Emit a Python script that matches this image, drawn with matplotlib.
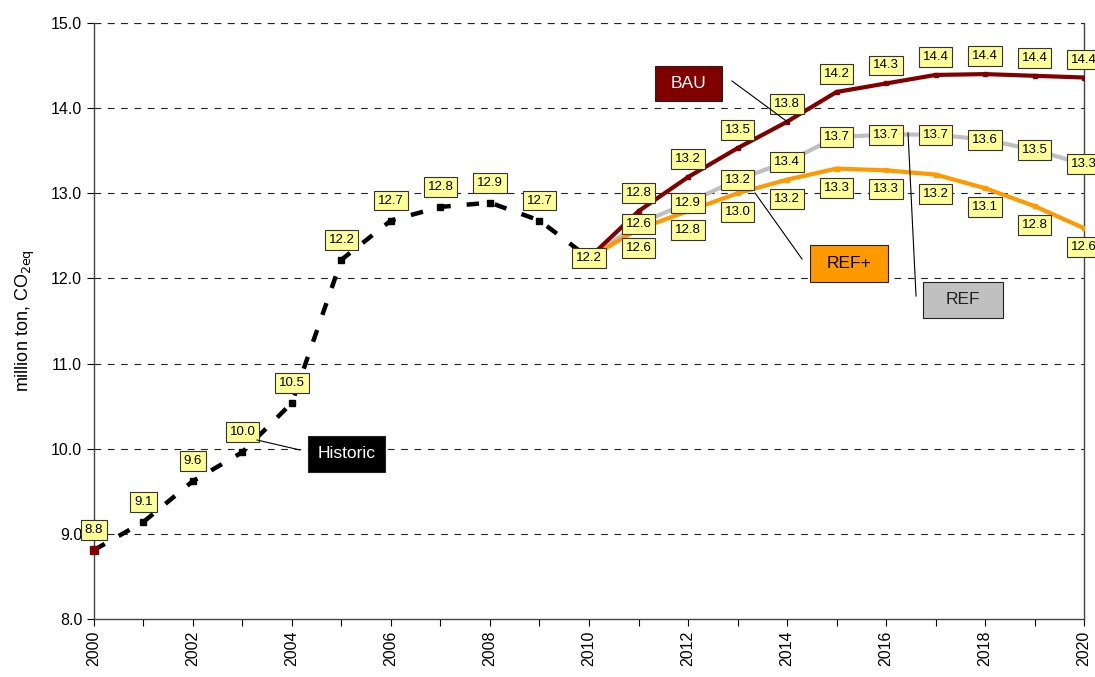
import matplotlib
matplotlib.use("Agg")
import matplotlib.pyplot as plt
from matplotlib.patches import Rectangle

plt.rcParams['font.family'] = ['Liberation Sans', 'DejaVu Sans']

years_hist = [2000, 2001, 2002, 2003, 2004, 2005, 2006, 2007, 2008, 2009, 2010]
historic = [8.81, 9.14, 9.62, 9.96, 10.54, 12.22, 12.68, 12.84, 12.89, 12.68, 12.24]

years_scen = [2010, 2011, 2012, 2013, 2014, 2015, 2016, 2017, 2018, 2019, 2020]
bau = [12.24, 12.79, 13.19, 13.53, 13.84, 14.19, 14.29, 14.39, 14.40, 14.38, 14.36]
ref = [12.24, 12.64, 12.89, 13.16, 13.37, 13.66, 13.69, 13.69, 13.63, 13.51, 13.34]
refplus = [12.24, 12.58, 12.79, 13.00, 13.16, 13.29, 13.27, 13.22, 13.06, 12.85, 12.59]

yticks = [8.0, 9.0, 10.0, 11.0, 12.0, 13.0, 14.0, 15.0]
xticks_major = list(range(2000, 2021, 2))

C_BAU = '#800000'
C_REF = '#C0C0C0'
C_REFP = '#FF9900'

fig = plt.figure(figsize=(10.95, 6.77), dpi=100)
ax = fig.add_axes([0.0858, 0.0857, 0.9042, 0.8803])

ax.set_xlim(2000, 2020)
ax.set_ylim(8.0, 15.0)

for y in yticks[1:]:
    ax.axhline(y, color='#222222', lw=0.8, ls=(0, (6, 6)), zorder=1)

ax.plot(years_scen, ref, color=C_REF, lw=3, marker='s', ms=3, zorder=3)
ax.plot(years_scen, refplus, color=C_REFP, lw=3, marker='s', ms=3, zorder=3)
ax.plot(years_scen, bau, color=C_BAU, lw=3, marker='s', ms=3, zorder=3)
ax.plot(years_hist, historic, color='black', lw=3.2, ls=(0, (2.8, 3.6)),
        marker='s', ms=4, zorder=4)
ax.plot([years_hist[0]], [historic[0]], color=C_BAU, marker='s', ms=6,
        ls='none', zorder=5, clip_on=False)

box = dict(boxstyle='square,pad=0.3', fc='#FFFF99', ec='#333333', lw=0.8)

def lab(x, y, v, dy):
    ax.annotate(f"{v:.1f}", (x, y), xytext=(0, dy), textcoords='offset pixels',
                ha='center', va='center', fontsize=9.5, bbox=box, zorder=6,
                annotation_clip=False)

for x, v in zip(years_hist, historic):
    lab(x, v, v, 0 if x == 2010 else 20)
for x, v in zip(years_scen[1:], bau[1:]):
    lab(x, v, v, 18)
for x, v in zip(years_scen[1:], ref[1:]):
    lab(x, v, v, 0)
for x, v in zip(years_scen[1:], refplus[1:]):
    lab(x, v, v, -19)

def px2data(px, py):
    x = 2000 + (px - 94) / 49.5
    y = 8.0 + (619 - py) / 85.14
    return x, y

def callout(text, box_px, line_pts, fc, tc):
    (x0, y0, x1, y1) = box_px
    bl = px2data(x0, y1)
    tr = px2data(x1, y0)
    ax.add_patch(Rectangle(bl, tr[0] - bl[0], tr[1] - bl[1], fc=fc,
                           ec='#222222', lw=0.8, zorder=7))
    cx, cy = px2data((x0 + x1) / 2, (y0 + y1) / 2)
    ax.text(cx, cy, text, ha='center', va='center', fontsize=12.5, color=tc,
            zorder=8)
    (a, b) = line_pts
    pa = px2data(*a)
    pb = px2data(*b)
    ax.plot([pa[0], pb[0]], [pa[1], pb[1]], color='black', lw=0.8, zorder=6)

callout('BAU', (655, 66, 722, 101), ((732, 81), (789, 123)), C_BAU, 'white')
callout('REF+', (810, 245, 888, 282), ((755, 193), (802, 259)), C_REFP, 'black')
callout('REF', (923, 282, 1003, 318), ((908, 133), (916, 296)), C_REF, '#222222')
callout('Historic', (308, 436, 385, 472), ((257, 440), (300, 450)), 'black', 'white')

ax.set_yticks(yticks)
ax.set_yticklabels([f"{v:.1f}" for v in yticks], fontsize=11.5)
ax.set_xticks(xticks_major)
ax.set_xticklabels([str(v) for v in xticks_major], rotation=90, fontsize=11.5)
ax.set_xticks(list(range(2000, 2021)), minor=True)
ax.tick_params(axis='both', which='both', direction='out', length=5, width=0.8)
ax.set_ylabel('million ton, CO$_{2\\mathrm{eq}}$', fontsize=13, labelpad=10)

ax.spines['top'].set_visible(False)
for s in ['left', 'bottom', 'right']:
    ax.spines[s].set_color('#444444')
    ax.spines[s].set_linewidth(1.0)
ax.axhline(15.0, color='#222222', lw=0.8, ls=(0, (6, 6)), zorder=1)

fig.savefig('out.png', dpi=100)
